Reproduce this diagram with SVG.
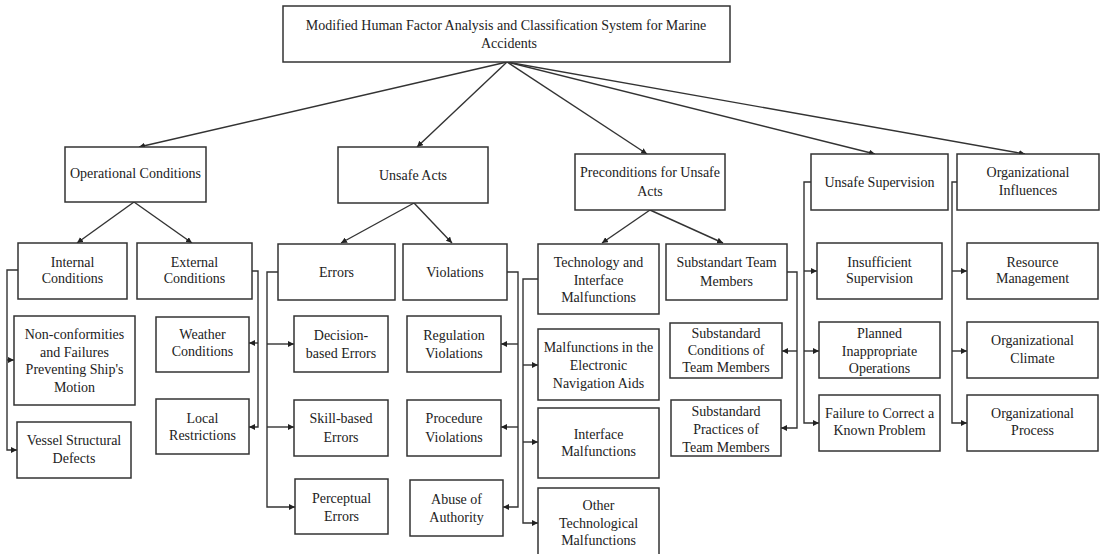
<svg xmlns="http://www.w3.org/2000/svg" width="1104" height="554" viewBox="0 0 1104 554">
<style>
.b{fill:#fff;stroke:#333;stroke-width:1.5}
.t{font-family:"Liberation Serif","Times New Roman",serif;font-size:14px;fill:#222;text-anchor:middle}
.c{fill:none;stroke:#333;stroke-width:1.4;marker-end:url(#ah)}
.l{fill:none;stroke:#333;stroke-width:1.4}
</style>
<defs>
<marker id="ah" markerUnits="userSpaceOnUse" markerWidth="6" markerHeight="6" refX="6" refY="3" orient="auto">
<path d="M0,0 L6,3 L0,6 z" fill="#222"/>
</marker>
</defs>
<rect width="1104" height="554" fill="#fff"/>
<g id="connectors">
<path class="c" d="M507,62 L139,147"/>
<path class="c" d="M507,62 L417,147"/>
<path class="c" d="M507,62 L647,154"/>
<path class="c" d="M507,62 L875,154"/>
<path class="c" d="M507,62 L1025,154"/>
<path class="c" d="M134,202 L77,243"/>
<path class="c" d="M134,202 L192,243"/>
<path class="c" d="M414,203 L341,243"/>
<path class="c" d="M414,203 L452,243"/>
<path class="c" d="M650,210 L602,243"/>
<path class="c" d="M650,210 L723,243"/>
<path class="c" d="M18,270 H7 V450 H17"/>
<path class="c" d="M7,360 H14"/>
<path class="c" d="M252,271 H258 V427 H249"/>
<path class="c" d="M258,343 H249"/>
<path class="c" d="M278,272 H267 V507 H295"/>
<path class="c" d="M267,344 H294"/>
<path class="c" d="M267,427 H294"/>
<path class="c" d="M507,272 H518 V507 H503"/>
<path class="c" d="M518,344 H501"/>
<path class="c" d="M518,427 H501"/>
<path class="c" d="M538,279 H523 V523 H538"/>
<path class="c" d="M523,365 H538"/>
<path class="c" d="M523,442 H538"/>
<path class="c" d="M787,272 H797 V428 H781"/>
<path class="c" d="M797,351 H782"/>
<path class="c" d="M811,182 H804 V423 H819"/>
<path class="c" d="M804,271 H817"/>
<path class="c" d="M804,351 H819"/>
<path class="c" d="M957,182 H952 V423 H967"/>
<path class="c" d="M952,271 H967"/>
<path class="c" d="M952,351 H967"/>
</g>
<g id="root"><rect class="b" x="283" y="6" width="447" height="56"/><text class="t" x="506" y="30">Modified Human Factor Analysis and Classification System for Marine</text><text class="t" x="509" y="48">Accidents</text></g>
<g id="operational"><rect class="b" x="65" y="147" width="141" height="55"/><text class="t" x="135.5" y="178">Operational Conditions</text></g>
<g id="unsafe-acts"><rect class="b" x="338" y="147" width="150" height="56"/><text class="t" x="413" y="180">Unsafe Acts</text></g>
<g id="preconditions"><rect class="b" x="575" y="154" width="150" height="56"/><text class="t" x="650" y="177">Preconditions for Unsafe</text><text class="t" x="650" y="196">Acts</text></g>
<g id="unsafe-supervision"><rect class="b" x="811" y="154" width="137" height="56"/><text class="t" x="879.5" y="187">Unsafe Supervision</text></g>
<g id="org-influences"><rect class="b" x="957" y="154" width="142" height="56"/><text class="t" x="1028" y="177">Organizational</text><text class="t" x="1028" y="195">Influences</text></g>
<g id="internal"><rect class="b" x="18" y="243" width="109" height="56"/><text class="t" x="72.5" y="267">Internal</text><text class="t" x="72.5" y="283">Conditions</text></g>
<g id="external"><rect class="b" x="137" y="243" width="115" height="56"/><text class="t" x="194.5" y="267">External</text><text class="t" x="194.5" y="283">Conditions</text></g>
<g id="errors"><rect class="b" x="278" y="244" width="117" height="56"/><text class="t" x="336.5" y="277">Errors</text></g>
<g id="violations"><rect class="b" x="403" y="244" width="104" height="56"/><text class="t" x="455" y="277">Violations</text></g>
<g id="tech"><rect class="b" x="538" y="244" width="121" height="70"/><text class="t" x="598.5" y="267">Technology and</text><text class="t" x="598.5" y="285">Interface</text><text class="t" x="598.5" y="302">Malfunctions</text></g>
<g id="substandart"><rect class="b" x="666" y="244" width="121" height="56"/><text class="t" x="726.5" y="267">Substandart Team</text><text class="t" x="726.5" y="286">Members</text></g>
<g id="insufficient"><rect class="b" x="817" y="243" width="125" height="56"/><text class="t" x="879.5" y="267">Insufficient</text><text class="t" x="879.5" y="283">Supervision</text></g>
<g id="resource"><rect class="b" x="967" y="243" width="131" height="56"/><text class="t" x="1032.5" y="267">Resource</text><text class="t" x="1032.5" y="283">Management</text></g>
<g id="nonconf"><rect class="b" x="14" y="316" width="121" height="89"/><text class="t" x="74.5" y="339">Non-conformities</text><text class="t" x="74.5" y="357">and Failures</text><text class="t" x="74.5" y="374">Preventing Ship's</text><text class="t" x="74.5" y="392">Motion</text></g>
<g id="vessel"><rect class="b" x="17" y="422" width="114" height="56"/><text class="t" x="74" y="445">Vessel Structural</text><text class="t" x="74" y="463">Defects</text></g>
<g id="weather"><rect class="b" x="156" y="317" width="93" height="55"/><text class="t" x="202.5" y="339">Weather</text><text class="t" x="202.5" y="356">Conditions</text></g>
<g id="local"><rect class="b" x="156" y="399" width="93" height="55"/><text class="t" x="202.5" y="423">Local</text><text class="t" x="202.5" y="440">Restrictions</text></g>
<g id="decision"><rect class="b" x="294" y="316" width="94" height="56"/><text class="t" x="341" y="340">Decision-</text><text class="t" x="341" y="358">based Errors</text></g>
<g id="skill"><rect class="b" x="294" y="400" width="94" height="56"/><text class="t" x="341" y="423">Skill-based</text><text class="t" x="341" y="442">Errors</text></g>
<g id="perceptual"><rect class="b" x="295" y="479" width="93" height="55"/><text class="t" x="341.5" y="503">Perceptual</text><text class="t" x="341.5" y="521">Errors</text></g>
<g id="regulation"><rect class="b" x="407" y="316" width="94" height="56"/><text class="t" x="454" y="340">Regulation</text><text class="t" x="454" y="358">Violations</text></g>
<g id="procedure"><rect class="b" x="407" y="400" width="94" height="56"/><text class="t" x="454" y="423">Procedure</text><text class="t" x="454" y="442">Violations</text></g>
<g id="abuse"><rect class="b" x="410" y="480" width="93" height="56"/><text class="t" x="456.5" y="504">Abuse of</text><text class="t" x="456.5" y="522">Authority</text></g>
<g id="malf-electronic"><rect class="b" x="538" y="329" width="121" height="71"/><text class="t" x="598.5" y="352">Malfunctions in the</text><text class="t" x="598.5" y="370">Electronic</text><text class="t" x="598.5" y="388">Navigation Aids</text></g>
<g id="interface-malf"><rect class="b" x="538" y="408" width="121" height="70"/><text class="t" x="598.5" y="439">Interface</text><text class="t" x="598.5" y="456">Malfunctions</text></g>
<g id="other-tech"><rect class="b" x="538" y="488" width="121" height="70"/><text class="t" x="598.5" y="510">Other</text><text class="t" x="598.5" y="528">Technological</text><text class="t" x="598.5" y="545">Malfunctions</text></g>
<g id="sub-conditions"><rect class="b" x="670" y="323" width="112" height="55"/><text class="t" x="726" y="338">Substandard</text><text class="t" x="726" y="355">Conditions of</text><text class="t" x="726" y="372">Team Members</text></g>
<g id="sub-practices"><rect class="b" x="671" y="400" width="110" height="56"/><text class="t" x="726" y="416">Substandard</text><text class="t" x="726" y="434">Practices of</text><text class="t" x="726" y="452">Team Members</text></g>
<g id="planned"><rect class="b" x="819" y="322" width="121" height="56"/><text class="t" x="879.5" y="338">Planned</text><text class="t" x="879.5" y="356">Inappropriate</text><text class="t" x="879.5" y="373">Operations</text></g>
<g id="failure"><rect class="b" x="819" y="395" width="121" height="56"/><text class="t" x="879.5" y="418">Failure to Correct a</text><text class="t" x="879.5" y="435">Known Problem</text></g>
<g id="org-climate"><rect class="b" x="967" y="322" width="131" height="56"/><text class="t" x="1032.5" y="345">Organizational</text><text class="t" x="1032.5" y="363">Climate</text></g>
<g id="org-process"><rect class="b" x="967" y="395" width="131" height="56"/><text class="t" x="1032.5" y="418">Organizational</text><text class="t" x="1032.5" y="435">Process</text></g>
</svg>
